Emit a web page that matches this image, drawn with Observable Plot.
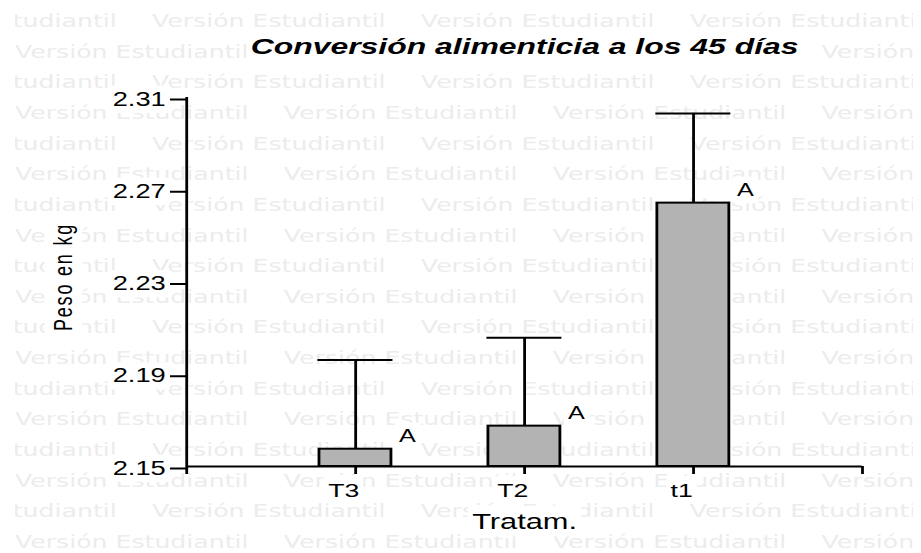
<!DOCTYPE html>
<html>
<head>
<meta charset="utf-8">
<script src="https://cdn.jsdelivr.net/npm/d3@7"></script>
<script src="https://cdn.jsdelivr.net/npm/@observablehq/plot@0.6"></script>
<style>
  html, body { margin: 0; padding: 0; background: white; overflow: hidden; }
  #stage { position: relative; width: 658px; height: 553px; transform: scaleX(1.399696); transform-origin: 0 0; overflow: hidden; }
  #wm, #chart { position: absolute; left: 0; top: 0; }
</style>
</head>
<body>
<div id="stage">
  <div id="wm"></div>
  <div id="chart"></div>
</div>
<script>
// ---- data ----
const categories = ["T3", "T2", "t1"];
const means = [2.1575, 2.1675, 2.2642];
const errors = [0.0387, 0.0383, 0.0389];
const groups = ["A", "A", "A"];
const yTicks = [2.15, 2.19, 2.23, 2.27, 2.31];
const title = "Conversión alimenticia a los 45 días";
const xLabel = "Tratam.";
const yLabel = "Peso en kg";
const watermark = "Versión Estudiantil";

const W = 658, H = 553;

// ---- watermark (background decoration) ----
const wm = d3.select("#wm").append("svg").attr("width", W).attr("height", H);
wm.append("clipPath").attr("id", "wmclip").append("rect")
  .attr("x", 10.7).attr("y", 0).attr("width", 641.5).attr("height", H);
const wg = wm.append("g").attr("clip-path", "url(#wmclip)")
  .attr("font-family", "'DejaVu Sans', sans-serif").attr("font-size", 18).attr("fill", "#ececec");
for (let k = 0; k < 18; k++) {
  const start = k % 2 === 0 ? -83.5 : 10.7;
  for (let j = 0; j < 5; j++) {
    wg.append("text").attr("x", start + j * 192.1).attr("y", 27 + k * 30.65).text(watermark);
  }
}

// ---- chart ----
const data = categories.map((c, i) => ({
  cat: c, pos: i + 1, mean: means[i], upper: means[i] + errors[i], group: groups[i]
}));
const barHalf = 0.213, capHalf = 0.222;
const xTicks = d3.range(0, categories.length + 2);
const xLabelTicks = d3.range(1, categories.length + 1);

const chart = Plot.plot({
  width: W, height: H,
  marginLeft: 132.9, marginRight: 42.3, marginTop: 97, marginBottom: 87,
  style: { background: "transparent", fontFamily: "'Liberation Sans', Arial, sans-serif", color: "black", overflow: "visible" },
  x: { type: "linear", domain: [0, categories.length + 1] },
  y: { domain: [yTicks[0], yTicks[yTicks.length - 1]] },
  marks: [
    Plot.rectY(data, { x1: d => d.pos - barHalf, x2: d => d.pos + barHalf, y1: yTicks[0], y2: "mean", fill: "#b3b3b3", stroke: "black", strokeWidth: 2 }),
    Plot.ruleX(data, { x: "pos", y1: "mean", y2: "upper", stroke: "black", strokeWidth: 2 }),
    Plot.ruleY(data, { y: "upper", x1: d => d.pos - capHalf, x2: d => d.pos + capHalf, stroke: "black", strokeWidth: 2 }),
    Plot.ruleY([yTicks[0]], { stroke: "black", strokeWidth: 2 }),
    Plot.ruleX([0], { stroke: "black", strokeWidth: 2 }),
    Plot.axisY({ ticks: yTicks, tickFormat: ".2f", tickSize: 11.5, tickPadding: 3.5, strokeWidth: 2, fontSize: 19.5, label: null, dy: 2 }),
    // tick marks of the x axis (both ends included), no text
    Plot.axisX({ ticks: xTicks, tickFormat: () => "", tickSize: 8, strokeWidth: 2, label: null }),
    // category labels of the x axis
    Plot.axisX({ ticks: xLabelTicks, tickFormat: i => categories[i - 1], tickSize: 0, tickPadding: 16.5, fontSize: 19, label: null, dx: -8.5 }),
    Plot.text(data, { x: "pos", y: "mean", text: "group", dx: 37, dy: -7, lineAnchor: "bottom", fontSize: 18, fill: "black" }),
    Plot.text([title], { frameAnchor: "top", dy: -44, lineAnchor: "bottom", fontSize: 22.8, fontWeight: "bold", fontStyle: "italic", fill: "black" }),
    Plot.text([xLabel], { frameAnchor: "bottom", dy: 62, lineAnchor: "bottom", fontSize: 22, fill: "black" }),
    Plot.text([yLabel], { frameAnchor: "left", textAnchor: "middle", rotate: -90, dx: -82, dy: -5, lineAnchor: "bottom", fontSize: 18, fill: "black" })
  ]
});
document.getElementById("chart").append(chart);

// letter spacing of the rotated label, then white boxes behind every text (as in the reference)
d3.select(chart).selectAll("text").filter(function () { return this.textContent.trim() === yLabel; })
  .attr("letter-spacing", "1.8")
  .style("letter-spacing", "1.8px");
d3.select(chart).selectAll("text").each(function () {
  if (!this.textContent) return;
  const b = this.getBBox();
  const pad = 3;
  const r = document.createElementNS("http://www.w3.org/2000/svg", "rect");
  r.setAttribute("x", b.x - pad);
  r.setAttribute("y", b.y - pad);
  r.setAttribute("width", b.width + 2 * pad);
  r.setAttribute("height", b.height + 2 * pad);
  r.setAttribute("fill", "white");
  r.setAttribute("stroke", "none");
  const t = this.getAttribute("transform");
  if (t) r.setAttribute("transform", t);
  this.parentNode.insertBefore(r, this);
});
</script>
</body>
</html>
